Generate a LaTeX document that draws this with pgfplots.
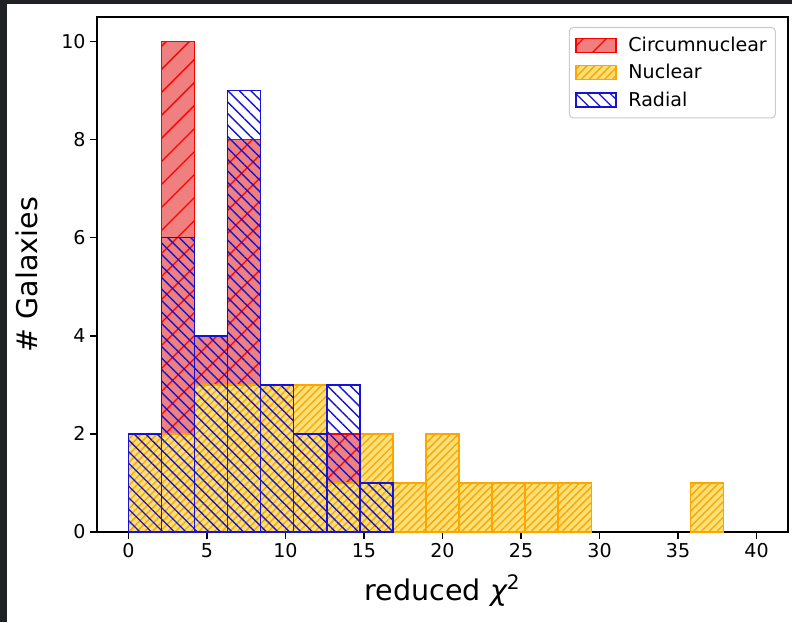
\documentclass[border=0pt]{standalone}
\usepackage{fontspec}
\setmainfont{DejaVu Sans}
\usepackage{pgfplots}
\pgfplotsset{compat=1.18}
\usetikzlibrary{patterns.meta}

\definecolor{circfill}{RGB}{240,128,128}
\definecolor{circedge}{RGB}{255,0,0}
\definecolor{nucfill}{RGB}{250,224,120}
\definecolor{nucedge}{RGB}{255,165,0}
\definecolor{radedge}{RGB}{20,20,210}
\definecolor{screen}{RGB}{32,33,36}
\definecolor{legedge}{RGB}{204,204,204}

% 1 px of the reference = 0.75pt
\pgfplotsset{
  histbar/.style={ybar, bar shift=0pt, bar width=2.10526, line width=1.1pt,
    legend image code/.code={\draw[##1, sharp corners] (0pt,-5.25pt) rectangle (30pt,5.25pt);
      \path (36.75pt,0pt);}},
}

\begin{document}
\begin{tikzpicture}
\fill[screen] (-72.75pt,-67.5pt) rectangle (521.25pt,399pt);
\fill[white] (-67.5pt,-67.5pt) rectangle (521.25pt,396pt);
\useasboundingbox (-72.75pt,-67.5pt) rectangle (521.25pt,399pt);
\begin{axis}[
  at={(0,0)}, anchor=south west, scale only axis,
  width=518.25pt, height=386.25pt,
  xmin=-2, xmax=42, ymin=0, ymax=10.5,
  xtick={0,5,...,40}, ytick={0,2,...,10},
  tick align=outside, tick pos=left, major tick length=5pt,
  every tick/.style={black, line width=1.1pt},
  axis line style={line width=1.1pt},
  tick label style={font=\fontsize{14.3}{17}\selectfont},
  /pgf/number format/assume math mode=true,
  xlabel={reduced {\itshape χ}\textsuperscript{2}},
  ylabel={\# Galaxies},
  every axis x label/.style={at={(axis description cs:0.5,0)}, anchor=base, yshift=-51pt, font=\fontsize{21.4}{25}\selectfont},
  every axis y label/.style={at={(axis description cs:-0.0854,0.5)}, rotate=90, anchor=base, font=\fontsize{21.4}{25}\selectfont},
  legend style={at={(1,1)}, anchor=north east, xshift=-9pt, yshift=-7.5pt,
    draw=legedge, rounded corners=3pt, line width=0.8pt,
    font=\fontsize{14.3}{17}\selectfont, inner xsep=4.5pt, inner ysep=5.25pt,
    row sep=4.1pt},
  legend cell align=left,
]
\addplot[histbar, fill=circfill, draw=circedge,
  postaction={pattern={Lines[angle=45,distance=12.2pt,line width=1pt]}, pattern color=circedge}]
  coordinates {(3.1579,10) (5.2632,4) (7.3684,8) (13.6842,2)};
\addlegendentry{Circumnuclear}
\addplot[histbar, fill=nucfill, draw=nucedge,
  postaction={pattern={Lines[angle=45,distance=4.1pt,line width=1pt]}, pattern color=nucedge}]
  coordinates {(1.0526,2) (3.1579,2) (5.2632,3) (7.3684,3) (9.4737,3) (11.5789,3)
    (13.6842,1) (15.7895,2) (17.8947,1) (20.0000,2) (22.1053,1) (24.2105,1)
    (26.3158,1) (28.4211,1) (36.8421,1)};
\addlegendentry{Nuclear}
\addplot[histbar, fill=none, draw=radedge,
  postaction={pattern={Lines[angle=-45,distance=6.1pt,line width=1pt]}, pattern color=radedge}]
  coordinates {(1.0526,2) (3.1579,6) (5.2632,4) (7.3684,9) (9.4737,3) (11.5789,2)
    (13.6842,3) (15.7895,1)};
\addlegendentry{Radial}
\end{axis}
\end{tikzpicture}
\end{document}
